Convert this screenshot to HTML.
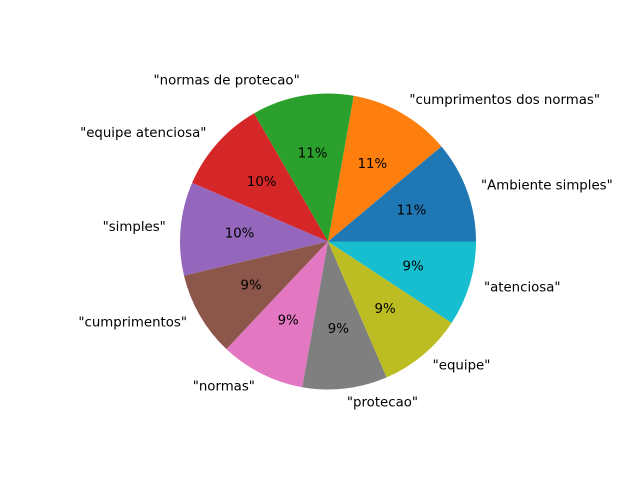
<!DOCTYPE html>
<html><head><meta charset="utf-8"><style>
body{margin:0;background:#fff}
svg text{font-family:"DejaVu Sans","Liberation Sans",sans-serif;font-size:13.33px;fill:#000}
</style></head><body>
<svg id="chart" width="640" height="480" viewBox="0 0 640 480" xmlns="http://www.w3.org/2000/svg"></svg>
<script>
const categories = ['"Ambiente simples"','"cumprimentos dos normas"','"normas de protecao"','"equipe atenciosa"','"simples"','"cumprimentos"','"normas"','"protecao"','"equipe"','"atenciosa"'];
const values = [12,12,12,11,11,10,10,10,10,10];
const colors = ['#1f77b4','#ff7f0e','#2ca02c','#d62728','#9467bd','#8c564b','#e377c2','#7f7f7f','#bcbd22','#17becf'];
const cx=328, cy=241.5, R=148;
const svg=document.getElementById('chart');
const NS='http://www.w3.org/2000/svg';
const total=values.reduce((a,b)=>a+b,0);
let a0=0;
values.forEach((v,i)=>{
  const a1=a0+v/total*2*Math.PI;
  const x0=cx+R*Math.cos(a0), y0=cy-R*Math.sin(a0);
  const x1=cx+R*Math.cos(a1), y1=cy-R*Math.sin(a1);
  const large=(a1-a0)>Math.PI?1:0;
  const p=document.createElementNS(NS,'path');
  p.setAttribute('d',`M${cx},${cy} L${x0},${y0} A${R},${R} 0 ${large} 0 ${x1},${y1} Z`);
  p.setAttribute('fill',colors[i]);
  
  
  svg.appendChild(p);
  const am=(a0+a1)/2;
  const lx=cx+1.1*R*Math.cos(am), ly=cy-1.1*R*Math.sin(am);
  const t=document.createElementNS(NS,'text');
  t.setAttribute('x',lx); t.setAttribute('y',ly);
  t.setAttribute('text-anchor',Math.cos(am)>=0?'start':'end');
  t.setAttribute('dominant-baseline','central');
  t.textContent=categories[i];
  
  
  svg.appendChild(t);
  const px=cx+0.6*R*Math.cos(am), py=cy-0.6*R*Math.sin(am);
  const pt=document.createElementNS(NS,'text');
  pt.setAttribute('x',px); pt.setAttribute('y',py);
  pt.setAttribute('text-anchor','middle');
  pt.setAttribute('dominant-baseline','central');
  pt.textContent=Math.round(v/total*100)+'%';
  
  
  svg.appendChild(pt);
  a0=a1;
});
</script>
</body></html>
